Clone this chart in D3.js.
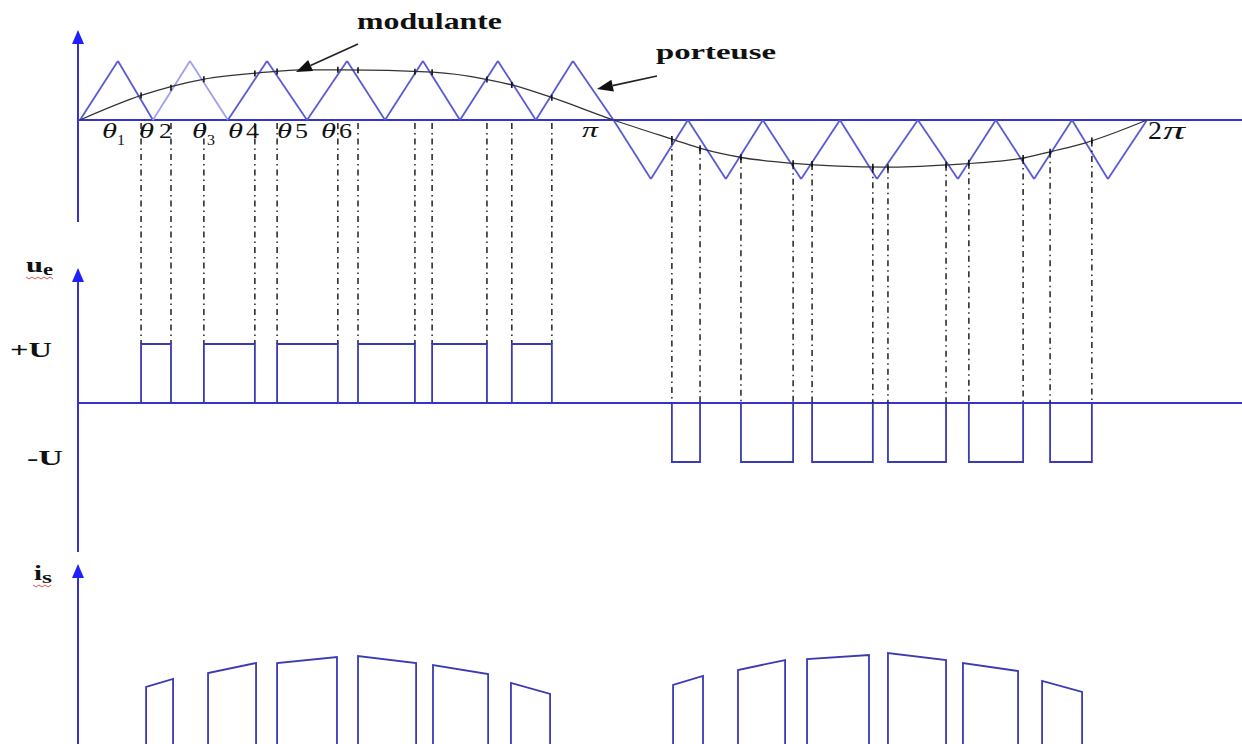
<!DOCTYPE html>
<html>
<head>
<meta charset="utf-8">
<script src="https://cdn.jsdelivr.net/npm/d3@7"></script>
<style>
  body { margin: 0; background: #fff; }
  text { font-family: "Liberation Serif", "DejaVu Serif", serif; fill: #111; }
</style>
</head>
<body>
<div id="vis"></div>
<script>
// Frame dimensions
const FRAME_WIDTH = 1242;
const FRAME_HEIGHT = 744;

// Colours
const AXIS_COLOR = "#3434cc";
const HEAD_COLOR = "#1f1fff";
const CARRIER_COLOR = "#5a5ad6";
const CARRIER_LIGHT = "#a0a0ea";
const PULSE_COLOR = "#3a3ab4";

// Angle (degrees, 0..360 = 0..2pi) of every vertex of the triangular carrier
const CARRIER_DEG = [0, 12.8, 24.6, 37.1, 49.9, 63.1, 76.6, 90.1, 102.9, 115.7, 128.2, 141.0, 153.8, 166.3, 180,
                     192.6, 205.1, 217.9, 230.4, 243.3, 256.4, 268.9, 282.7, 296.2, 309.0, 321.9, 334.7, 346.8, 360];
const CARRIER_VAL = [0, 1, 0, 1, 0, 1, 0, 1, 0, 1, 0, 1, 0, 1, 0,
                     -1, 0, -1, 0, -1, 0, -1, 0, -1, 0, -1, 0, -1, 0];

// Modulating wave
const MOD_DEG = [0, 20.9, 41.5, 63, 74, 89, 119, 137, 146, 158.6, 180,
                 200.7, 210, 223.7, 239.5, 272, 292.5, 318.8, 328, 339, 360];
const MOD_VAL = [0, 0.42, 0.69, 0.81, 0.85, 0.85, 0.81, 0.69, 0.59, 0.39, 0,
                 -0.34, -0.49, -0.64, -0.73, -0.80, -0.76, -0.64, -0.53, -0.39, 0];

// Switching instants of the output voltage ue (degrees) and level
const UE_START = [20.6, 41.8, 66.5, 93.8, 118.8, 145.7, 199.7, 223.0, 247.0, 272.6, 299.9, 327.3];
const UE_END   = [30.7, 59.0, 87.0, 113.0, 137.3, 159.2, 209.2, 240.6, 267.5, 292.2, 318.2, 341.4];
const UE_LEVEL = [1, 1, 1, 1, 1, 1, -1, -1, -1, -1, -1, -1];

// Current is during each pulse (arbitrary units)
const IS_START = [22.3, 43.2, 66.5, 93.8, 119.1, 145.4, 200.1, 222.0, 245.3, 272.6, 297.9, 324.6];
const IS_END   = [31.4, 59.4, 86.7, 113.4, 137.7, 158.6, 210.2, 237.9, 266.2, 292.2, 316.5, 338.1];
const IS_TOP_START = [57, 71, 81, 88, 79, 61, 59, 74, 85, 91, 81, 63];
const IS_TOP_END   = [65, 81, 87, 81, 70, 50, 68, 84, 89, 84, 73, 52];

// Theta labels
const THETA_SUB = ["1", "2", "3", "4", "5", "6"];
const THETA_IS_SUB = [true, false, true, false, false, false];

const FRAME = d3.select("#vis")
  .append("svg")
    .attr("width", FRAME_WIDTH)
    .attr("height", FRAME_HEIGHT);

FRAME.append("rect")
  .attr("width", FRAME_WIDTH).attr("height", FRAME_HEIGHT).attr("fill", "#fff");

// Scales
const X_SCALE = d3.scaleLinear().domain([0, 360]).range([80, 1147]);
const Y_TOP = d3.scaleLinear().domain([-1, 1]).range([179, 61]);
const Y_UE = d3.scaleLinear().domain([-1, 1]).range([462, 344]);
const Y_IS = d3.scaleLinear().domain([0, 100]).range([744, 644]);

const modAt = d3.scaleLinear().domain(MOD_DEG).range(MOD_VAL);

// Axes with arrow heads
function vAxis(x, y1, y2) {
  FRAME.append("line")
    .attr("x1", x).attr("x2", x).attr("y1", y1 + 4).attr("y2", y2)
    .attr("stroke", AXIS_COLOR).attr("stroke-width", 2);
  FRAME.append("path")
    .attr("d", `M${x},${y1} L${x - 6},${y1 + 14} L${x + 6},${y1 + 14} Z`)
    .attr("fill", HEAD_COLOR);
}
vAxis(78, 30, 222);
vAxis(78, 268, 552);
vAxis(78, 564, 744);

FRAME.append("line")
  .attr("x1", 78).attr("x2", FRAME_WIDTH).attr("y1", Y_TOP(0)).attr("y2", Y_TOP(0))
  .attr("stroke", AXIS_COLOR).attr("stroke-width", 2);
FRAME.append("line")
  .attr("x1", 78).attr("x2", FRAME_WIDTH).attr("y1", Y_UE(0)).attr("y2", Y_UE(0))
  .attr("stroke", AXIS_COLOR).attr("stroke-width", 2);

// Carrier triangle, drawn segment by segment
const carrier = CARRIER_DEG.map((d, i) => [d, CARRIER_VAL[i]]);
FRAME.selectAll(".carrier")
  .data(d3.pairs(carrier))
  .enter()
  .append("line")
    .attr("class", "carrier")
    .attr("x1", (d) => X_SCALE(d[0][0]))
    .attr("y1", (d) => Y_TOP(d[0][1]))
    .attr("x2", (d) => X_SCALE(d[1][0]))
    .attr("y2", (d) => Y_TOP(d[1][1]))
    .attr("stroke", (d, i) => (i === 2 || i === 3) ? CARRIER_LIGHT : CARRIER_COLOR)
    .attr("stroke-width", 1.8);

// Modulating wave
const modLine = d3.line()
  .x((d) => X_SCALE(d[0]))
  .y((d) => Y_TOP(d[1]))
  .curve(d3.curveMonotoneX);
FRAME.append("path")
  .attr("d", modLine(MOD_DEG.map((d, i) => [d, MOD_VAL[i]])))
  .attr("fill", "none").attr("stroke", "#333").attr("stroke-width", 1.3);

// Dash-dot projection lines
const edges = [];
UE_START.forEach((s, i) => {
  edges.push({ deg: s, level: UE_LEVEL[i] });
  edges.push({ deg: UE_END[i], level: UE_LEVEL[i] });
});
FRAME.selectAll(".proj")
  .data(edges)
  .enter()
  .append("line")
    .attr("class", "proj")
    .attr("x1", (d) => X_SCALE(d.deg))
    .attr("x2", (d) => X_SCALE(d.deg))
    .attr("y1", (d) => d.level > 0 ? Y_TOP(0) + 3 : Y_TOP(modAt(d.deg)))
    .attr("y2", (d) => d.level > 0 ? Y_UE(1) : Y_UE(0))
    .attr("stroke", "#111").attr("stroke-width", 1.4)
    .attr("stroke-dasharray", "6,4,1.5,4");

// Small ticks where carrier meets the modulating wave
FRAME.selectAll(".hit")
  .data(edges)
  .enter()
  .append("line")
    .attr("class", "hit")
    .attr("x1", (d) => X_SCALE(d.deg))
    .attr("x2", (d) => X_SCALE(d.deg))
    .attr("y1", (d) => Y_TOP(modAt(d.deg)) - 3)
    .attr("y2", (d) => Y_TOP(modAt(d.deg)) + 3)
    .attr("stroke", "#111").attr("stroke-width", 1.6);

// Output voltage pulses
FRAME.selectAll(".ue")
  .data(UE_START)
  .enter()
  .append("path")
    .attr("class", "ue")
    .attr("d", (d, i) => {
      const x1 = X_SCALE(d), x2 = X_SCALE(UE_END[i]);
      const y0 = Y_UE(0), y1 = Y_UE(UE_LEVEL[i]);
      return `M${x1},${y0} L${x1},${y1} L${x2},${y1} L${x2},${y0}`;
    })
    .attr("fill", "none").attr("stroke", PULSE_COLOR).attr("stroke-width", 1.8);

// Current pulses
FRAME.selectAll(".is")
  .data(IS_START)
  .enter()
  .append("path")
    .attr("class", "is")
    .attr("d", (d, i) => {
      const x1 = X_SCALE(d), x2 = X_SCALE(IS_END[i]);
      return `M${x1},${FRAME_HEIGHT + 2} L${x1},${Y_IS(IS_TOP_START[i])} L${x2},${Y_IS(IS_TOP_END[i])} L${x2},${FRAME_HEIGHT + 2}`;
    })
    .attr("fill", "none").attr("stroke", PULSE_COLOR).attr("stroke-width", 1.8);

// Theta labels (the figure is stretched sideways, so glyphs are widened)
const THETA_X = [102, 139, 192, 228, 277, 321];
THETA_SUB.forEach((s, i) => {
  FRAME.append("text").attr("x", THETA_X[i]).attr("y", 138)
    .attr("font-size", 22).attr("font-style", "italic")
    .attr("textLength", 15).attr("lengthAdjust", "spacingAndGlyphs")
    .text("θ");
  if (THETA_IS_SUB[i]) {
    FRAME.append("text").attr("x", THETA_X[i] + 15).attr("y", 145)
      .attr("font-size", 15)
      .attr("textLength", 8).attr("lengthAdjust", "spacingAndGlyphs").text(s);
  } else {
    FRAME.append("text").attr("x", THETA_X[i] + (i === 1 ? 20 : 18)).attr("y", 138)
      .attr("font-size", 22)
      .attr("textLength", 13).attr("lengthAdjust", "spacingAndGlyphs").text(s);
  }
});

FRAME.append("text").attr("x", 582).attr("y", 137)
  .attr("font-size", 22).attr("font-style", "italic")
  .attr("textLength", 16).attr("lengthAdjust", "spacingAndGlyphs").text("π");
FRAME.append("text").attr("x", 1148).attr("y", 139).attr("font-size", 25)
  .attr("textLength", 14).attr("lengthAdjust", "spacingAndGlyphs").text("2");
FRAME.append("text").attr("x", 1163).attr("y", 139).attr("font-size", 25)
  .attr("font-style", "italic")
  .attr("textLength", 22).attr("lengthAdjust", "spacingAndGlyphs").text("π");

// Annotation labels
FRAME.append("text").attr("x", 357).attr("y", 29)
  .attr("font-size", 23).attr("font-weight", "bold")
  .attr("textLength", 145).attr("lengthAdjust", "spacingAndGlyphs")
  .text("modulante");
FRAME.append("text").attr("x", 656).attr("y", 59)
  .attr("font-size", 22).attr("font-weight", "bold")
  .attr("textLength", 120).attr("lengthAdjust", "spacingAndGlyphs")
  .text("porteuse");

// Annotation arrows
function arrow(x1, y1, x2, y2) {
  const a = Math.atan2(y2 - y1, x2 - x1);
  const len = 16, w = 6;
  const bx = x2 - len * Math.cos(a), by = y2 - len * Math.sin(a);
  FRAME.append("line")
    .attr("x1", x1).attr("y1", y1).attr("x2", bx).attr("y2", by)
    .attr("stroke", "#222").attr("stroke-width", 1.6);
  FRAME.append("path")
    .attr("d", `M${x2},${y2} L${bx - w * Math.sin(a)},${by + w * Math.cos(a)} L${bx + w * Math.sin(a)},${by - w * Math.cos(a)} Z`)
    .attr("fill", "#111");
}
arrow(358, 44, 296, 72);
arrow(657, 76, 597, 89);

// Panel labels
function subLabel(x, y, main, sub, wMain, wave) {
  FRAME.append("text").attr("x", x).attr("y", y)
    .attr("font-size", 22).attr("font-weight", "bold")
    .attr("textLength", wMain).attr("lengthAdjust", "spacingAndGlyphs").text(main);
  FRAME.append("text").attr("x", x + wMain).attr("y", y + 3)
    .attr("font-size", 16).attr("font-weight", "bold")
    .attr("textLength", 10).attr("lengthAdjust", "spacingAndGlyphs").text(sub);
  // spell-check squiggle
  const pts = d3.range(wave[0], wave[1], 3).map((px, i) => [px, y + 5 + (i % 2 ? 2 : 0)]);
  FRAME.append("path").attr("d", d3.line()(pts))
    .attr("fill", "none").attr("stroke", "#d04040").attr("stroke-width", 0.9);
}
subLabel(26, 272, "u", "e", 17, [26, 54]);
subLabel(34, 580, "i", "s", 8, [33, 52]);

FRAME.append("text").attr("x", 10).attr("y", 357)
  .attr("font-size", 22).attr("font-weight", "bold")
  .attr("textLength", 42).attr("lengthAdjust", "spacingAndGlyphs").text("+U");
FRAME.append("text").attr("x", 27).attr("y", 465)
  .attr("font-size", 22).attr("font-weight", "bold")
  .attr("textLength", 36).attr("lengthAdjust", "spacingAndGlyphs").text("-U");
</script>
</body>
</html>
